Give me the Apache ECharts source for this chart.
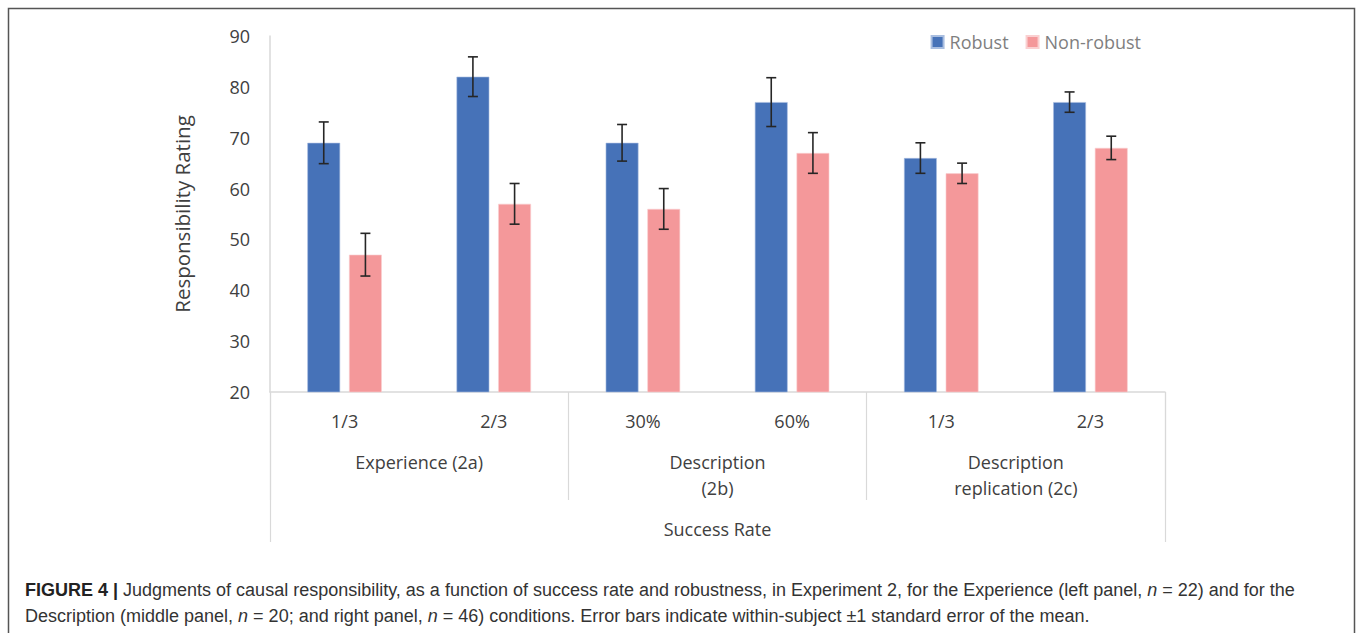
<!DOCTYPE html>
<html>
<head>
<meta charset="utf-8">
<script src="https://cdn.jsdelivr.net/npm/echarts@6/dist/echarts.min.js"></script>
<style>
  html, body { margin: 0; padding: 0; background: #fff; }
  #chart { width: 1357px; height: 633px; }
</style>
</head>
<body>
<div id="chart"></div>
<script>
// Success-rate conditions, grouped by experiment
const rateLabels = ['1/3', '2/3', '30%', '60%', '1/3', '2/3'];
const experimentLabels = ['Experience (2a)', 'Description\n(2b)', 'Description\nreplication (2c)'];
const outerLabel = ['Success Rate'];

// Mean responsibility ratings
const robust = [69, 82, 69, 77, 66, 77];
const nonRobust = [47, 57, 56, 67, 63, 68];

// Within-subject ±1 SE
const robustSE = [4.1, 3.9, 3.6, 4.8, 3.0, 2.0];
const nonRobustSE = [4.2, 4.0, 4.0, 4.0, 2.0, 2.3];

const yTicks = { min: 20, max: 90, interval: 10 };

const BLUE = '#4672B8';
const PINK = '#F4989A';
const AXIS_GRAY = '#D9D9D9';
const TEXT = '#404040';
const FONT = '"Open Sans", "Noto Sans", sans-serif';
const CAPTION_FONT = '"Liberation Sans", Arial, sans-serif';

const BAR_FRAC = 0.22;   // bar width as share of a category band
const GAP_FRAC = 0.27;   // gap between the two bars, relative to bar width

function errorSeries(name, means, se, side) {
  return {
    name: name + ' SE',
    type: 'custom',
    xAxisIndex: 0,
    yAxisIndex: 0,
    z: 5,
    silent: true,
    data: means.map((m, i) => [i, m - se[i], m + se[i]]),
    renderItem: function (params, api) {
      const band = api.size([1, 0])[0];
      const barW = band * BAR_FRAC;
      const offset = side * (barW + barW * GAP_FRAC) / 2;
      const lo = api.coord([api.value(0), api.value(1)]);
      const hi = api.coord([api.value(0), api.value(2)]);
      const x = lo[0] + offset;
      const cap = 5;
      const style = { stroke: '#262626', lineWidth: 1.6, fill: null };
      return {
        type: 'group',
        children: [
          { type: 'line', shape: { x1: x, y1: lo[1], x2: x, y2: hi[1] }, style: style },
          { type: 'line', shape: { x1: x - cap, y1: lo[1], x2: x + cap, y2: lo[1] }, style: style },
          { type: 'line', shape: { x1: x - cap, y1: hi[1], x2: x + cap, y2: hi[1] }, style: style }
        ]
      };
    }
  };
}

const chart = echarts.init(document.getElementById('chart'), null, { renderer: 'svg' });

chart.setOption({
  animation: false,
  backgroundColor: '#fff',
  grid: { left: 270, right: 192, top: 36, bottom: 241, containLabel: false },
  legend: {
    right: 211,
    top: 28,
    itemWidth: 12,
    itemHeight: 12,
    itemGap: 17,
    icon: 'rect',
    textStyle: { color: '#7F7F7F', fontSize: 18, fontFamily: FONT, padding: [0, 0, 0, 1] },
    data: ['Robust', 'Non-robust']
  },
  xAxis: [
    {
      type: 'category',
      data: rateLabels,
      position: 'bottom',
      axisLine: { show: true, lineStyle: { color: AXIS_GRAY, width: 1.5 } },
      axisTick: { show: false },
      axisLabel: { color: TEXT, fontSize: 18, fontFamily: FONT, margin: 19, lineHeight: 20 }
    },
    {
      type: 'category',
      data: experimentLabels,
      position: 'bottom',
      axisLine: { show: false },
      axisTick: { show: true, length: 108, lineStyle: { color: AXIS_GRAY, width: 1.2 } },
      axisLabel: { color: TEXT, fontSize: 18, fontFamily: FONT, margin: 57, lineHeight: 26 }
    },
    {
      type: 'category',
      data: outerLabel,
      position: 'bottom',
      axisLine: { show: false },
      axisTick: { show: true, length: 150, lineStyle: { color: AXIS_GRAY, width: 1.2 } },
      axisLabel: { color: TEXT, fontSize: 18, fontFamily: FONT, margin: 126, lineHeight: 22 }
    }
  ],
  yAxis: {
    type: 'value',
    min: yTicks.min,
    max: yTicks.max,
    interval: yTicks.interval,
    name: 'Responsibility Rating',
    nameLocation: 'middle',
    nameGap: 78,
    nameTextStyle: { color: TEXT, fontSize: 20.5, fontFamily: FONT },
    axisLine: { show: true, lineStyle: { color: AXIS_GRAY, width: 1.5 } },
    axisTick: { show: false },
    splitLine: { show: false },
    axisLabel: { color: TEXT, fontSize: 18, fontFamily: FONT, margin: 20 }
  },
  series: [
    {
      name: 'Robust',
      type: 'bar',
      data: robust,
      barWidth: (BAR_FRAC * 100) + '%',
      barGap: (GAP_FRAC * 100) + '%',
      itemStyle: { color: BLUE, borderColor: '#A9BEE0', borderWidth: 0.6 }
    },
    {
      name: 'Non-robust',
      type: 'bar',
      data: nonRobust,
      barWidth: (BAR_FRAC * 100) + '%',
      barGap: (GAP_FRAC * 100) + '%',
      itemStyle: { color: PINK, borderColor: '#FAD0D1', borderWidth: 0.6 }
    },
    errorSeries('Robust', robust, robustSE, -1),
    errorSeries('Non-robust', nonRobust, nonRobustSE, 1)
  ],
  graphic: [
    {
      type: 'rect',
      silent: true,
      shape: { x: 8.5, y: 8.5, width: 1346, height: 700 },
      style: { fill: null, stroke: '#555555', lineWidth: 1.5 }
    },
    {
      type: 'text',
      left: 25,
      top: 577,
      style: {
        text: '{b|FIGURE 4 |} Judgments of causal responsibility, as a function of success rate and robustness, in Experiment 2, for the Experience (left panel, {i|n} = 22) and for the\nDescription (middle panel, {i|n} = 20; and right panel, {i|n} = 46) conditions. Error bars indicate within-subject ±1 standard error of the mean.',
        font: '18px ' + CAPTION_FONT,
        fill: '#333333',
        lineHeight: 26,
        rich: {
          b: { fontWeight: 'bold', fontSize: 18, fontFamily: CAPTION_FONT, fill: '#222222', lineHeight: 26 },
          i: { fontStyle: 'italic', fontSize: 18, fontFamily: CAPTION_FONT, fill: '#333333', lineHeight: 26 }
        }
      }
    }
  ]
});
</script>
</body>
</html>
